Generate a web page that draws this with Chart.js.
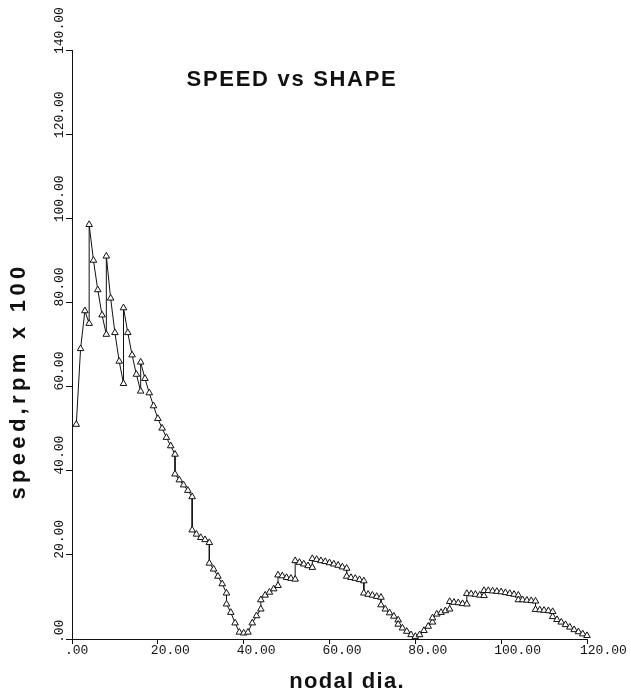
<!DOCTYPE html>
<html><head><meta charset="utf-8">
<script src="https://cdn.jsdelivr.net/npm/chart.js@4/dist/chart.umd.min.js"></script>
<style>html,body{margin:0;padding:0;background:#fff}canvas{display:block}</style>
</head><body>
<canvas id="c" width="631" height="691"></canvas>
<script>
// ---- data ----
const nodalDia = [1,2,3,4,4,5,6,7,8,8,9,10,11,12,12,13,14,15,16,16,17,18,19,20,21,22,23,24,24,25,26,27,28,28,29,30,31,32,32,33,34,35,36,36,37,38,39,40,41,42,43,44,44,45,46,47,48,48,49,50,51,52,52,53,54,55,56,56,57,58,59,60,61,62,63,64,64,65,66,67,68,68,69,70,71,72,72,73,74,75,76,76,77,78,79,80,81,82,83,84,84,85,86,87,88,88,89,90,91,92,92,93,94,95,96,96,97,98,99,100,101,102,103,104,104,105,106,107,108,108,109,110,111,112,112,113,114,115,116,117,118,119,120];
const speed = [51,69,78,75,98.5,90,83,77,72.4,91,81,72.8,66,60.7,78.7,72.8,67.5,62.9,58.9,65.8,61.9,58.5,55.4,52.4,50.1,47.9,45.9,43.9,39.2,37.8,36.6,35.3,33.8,25.9,24.9,24.1,23.6,22.9,18.0,16.6,14.9,13.1,10.9,8.3,6.3,3.8,1.6,1.4,1.6,3.8,5.5,7.1,9.3,10.4,11.1,11.9,12.7,15.2,15.0,14.6,14.4,14.2,18.6,18.2,17.8,17.4,17.0,19.1,18.9,18.6,18.4,18.1,17.8,17.5,17.1,16.8,14.9,14.6,14.4,14.1,13.8,10.9,10.6,10.4,10.1,9.9,8.1,7.1,6.2,5.4,4.5,3.5,2.6,1.8,1.0,0.6,1.0,2.0,3.0,4.0,5.0,5.9,6.3,6.7,7.1,8.9,8.7,8.6,8.4,8.3,10.8,10.7,10.6,10.4,10.3,11.5,11.5,11.4,11.3,11.2,11.0,10.8,10.6,10.4,9.3,9.3,9.2,9.1,9.0,7.0,6.9,6.8,6.7,6.5,5.3,4.6,4.0,3.4,2.8,2.2,1.7,1.2,0.8];
const xTickLabels = ['.00','20.00','40.00','60.00','80.00','100.00','120.00'];
const yTickLabels = ['.00','20.00','40.00','60.00','80.00','100.00','120.00','140.00'];
const chartTitle = 'SPEED vs SHAPE';
const xTitle = 'nodal dia.';
const yTitle = 'speed,rpm x 100';

const points = nodalDia.map((x, i) => ({x: x, y: speed[i]}));
const INK = '#111';
const tickFont = {family: '"Liberation Mono", "DejaVu Sans Mono", monospace', size: 13};

const textPlugin = {
  id: 'texts',
  afterDraw(chart) {
    const ctx = chart.ctx;
    const a = chart.chartArea;
    ctx.save();
    ctx.fillStyle = INK;
    ctx.textAlign = 'center';
    ctx.textBaseline = 'middle';
    ctx.font = 'bold 22px "Liberation Sans", Arial, sans-serif';
    ctx.letterSpacing = '1.7px';
    ctx.fillText(chartTitle, a.left + 220, 80);
    ctx.font = 'bold 22px "Liberation Sans", Arial, sans-serif';
    ctx.letterSpacing = '1.3px';
    ctx.fillText(xTitle, a.left + 275, 682);
    ctx.translate(19, 381);
    ctx.rotate(-Math.PI / 2);
    ctx.font = 'bold 22px "Liberation Sans", Arial, sans-serif';
    ctx.letterSpacing = '4.3px';
    ctx.fillText(yTitle, 0, 0);
    ctx.restore();
  }
};

function zeroPad(s) { s.paddingLeft = 0; s.paddingRight = 0; s.paddingTop = 0; s.paddingBottom = 0; }

new Chart(document.getElementById('c'), {
  type: 'line',
  data: {
    datasets: [{
      data: points,
      borderColor: INK,
      borderWidth: 1,
      tension: 0,
      pointStyle: 'triangle',
      pointRadius: 3.8,
      pointBackgroundColor: '#fff',
      pointBorderColor: INK,
      pointBorderWidth: 1,
      clip: false
    }]
  },
  options: {
    responsive: false,
    devicePixelRatio: 1,
    animation: false,
    layout: {padding: {left: 72, top: 50, right: 44, bottom: 0}},
    plugins: {legend: {display: false}, tooltip: {enabled: false}, title: {display: false}},
    scales: {
      x: {
        type: 'linear', min: 0, max: 120,
        border: {display: true, color: INK, width: 1},
        grid: {display: true, drawOnChartArea: false, drawTicks: true, tickLength: 5, color: INK},
        ticks: {
          stepSize: 20, color: INK, font: tickFont, align: 'start', labelOffset: -7, padding: -1,
          maxRotation: 0, minRotation: 0, autoSkip: false,
          callback: (v) => xTickLabels[Math.round(v / 20)]
        },
        afterFit: (s) => { s.height = 52; zeroPad(s); }
      },
      y: {
        type: 'linear', min: 0, max: 140,
        border: {display: true, color: INK, width: 1},
        grid: {display: true, drawOnChartArea: false, drawTicks: true, tickLength: 6, color: INK},
        ticks: {
          stepSize: 20, color: INK, font: tickFont, mirror: true, padding: -12,
          minRotation: 90, maxRotation: 90, labelOffset: 4, autoSkip: false,
          callback: (v) => yTickLabels[Math.round(v / 20)]
        },
        afterFit: (s) => { s.width = 0; zeroPad(s); }
      }
    }
  },
  plugins: [textPlugin]
});
</script>
</body></html>
